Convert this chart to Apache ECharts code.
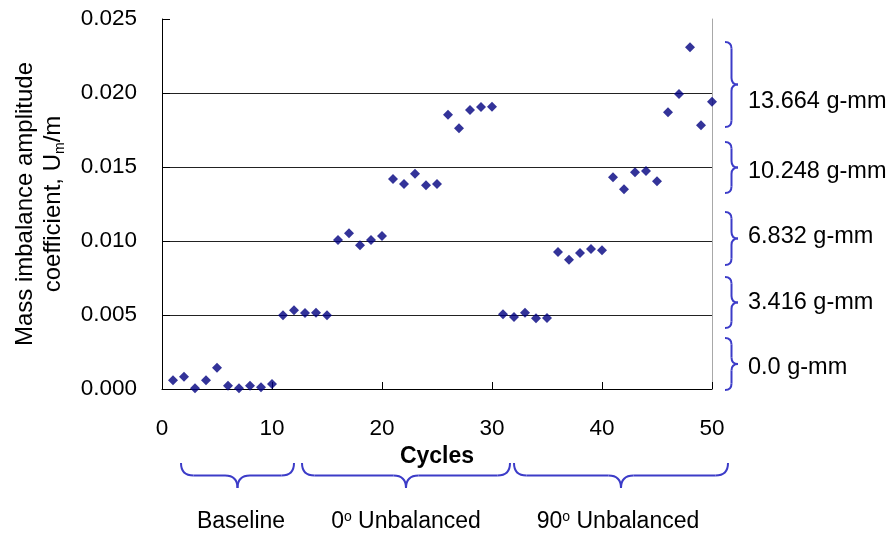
<!DOCTYPE html>
<html>
<head>
<meta charset="utf-8">
<script src="https://cdn.jsdelivr.net/npm/echarts@6/dist/echarts.min.js"></script>
<style>
  html, body { margin: 0; padding: 0; background: #fff; }
  #chart-container { width: 894px; height: 538px; }
</style>
</head>
<body>
<div id="chart-container"></div>
<script>
var dom = document.getElementById("chart-container");
var myChart = echarts.init(dom, null, { renderer: "canvas" });

// cycle numbers and measured Um/m values
const cycles = [
  1, 2, 3, 4, 5, 6, 7, 8, 9, 10,
  11, 12, 13, 14, 15, 16, 17, 18, 19, 20,
  21, 22, 23, 24, 25, 26, 27, 28, 29, 30,
  31, 32, 33, 34, 35, 36, 37, 38, 39, 40,
  41, 42, 43, 44, 45, 46, 47, 48, 49, 50
];
const umValues = [
  0.00059, 0.00083, 0.00005, 0.00059, 0.00144, 0.00022, 0.00005, 0.00022, 0.00011, 0.00034,
  0.00498, 0.00532, 0.00514, 0.00516, 0.00498, 0.01007, 0.01052, 0.00971, 0.01007, 0.01034,
  0.01419, 0.01385, 0.01455, 0.01376, 0.01385, 0.01853, 0.01761, 0.01885, 0.01905, 0.01907,
  0.00505, 0.00486, 0.00516, 0.00478, 0.0048, 0.00926, 0.00874, 0.00919, 0.00946, 0.00937,
  0.0143, 0.01349, 0.01464, 0.01473, 0.01403, 0.0187, 0.01993, 0.02309, 0.01782, 0.01941
];
const groupLabels = ["Baseline", "0{sup|o} Unbalanced", "90{sup|o} Unbalanced"];
const levelLabels = ["13.664 g-mm", "10.248 g-mm", "6.832 g-mm", "3.416 g-mm", "0.0 g-mm"];

const blue = "#3c3cc8";
const font = "Arial, 'Liberation Sans', sans-serif";
const braceStyle = { stroke: blue, fill: null, lineWidth: 2 };

// brace pieces (annotation layout, pixels)
function curve(x1, y1, cx, cy, x2, y2) {
  return { type: "bezierCurve", shape: { x1: x1, y1: y1, x2: x2, y2: y2, cpx1: cx, cpy1: cy }, style: braceStyle };
}
function seg(x1, y1, x2, y2) {
  return { type: "line", shape: { x1: x1, y1: y1, x2: x2, y2: y2 }, style: braceStyle };
}
function hBrace(x1, x2, y0, h) {
  const r = h / 2, mid = (x1 + x2) / 2, yb = y0 + r, yp = y0 + h;
  return [
    curve(x1, y0, x1, yb, x1 + r, yb),
    seg(x1 + r, yb, mid - r, yb),
    curve(mid - r, yb, mid, yb, mid, yp),
    curve(mid, yp, mid, yb, mid + r, yb),
    seg(mid + r, yb, x2 - r, yb),
    curve(x2 - r, yb, x2, yb, x2, y0)
  ];
}
function vBrace(y1, y2, x0, w) {
  const r = w / 2, mid = (y1 + y2) / 2, xb = x0 + r, xp = x0 + w;
  return [
    curve(x0, y1, xb, y1, xb, y1 + r),
    seg(xb, y1 + r, xb, mid - r),
    curve(xb, mid - r, xb, mid, xp, mid),
    curve(xp, mid, xb, mid, xb, mid + r),
    seg(xb, mid + r, xb, y2 - r),
    curve(xb, y2 - r, xb, y2, x0, y2)
  ];
}

const hSpans = [[181, 294], [302, 510], [514, 728]];
const vSpans = [[42, 127], [142, 193], [212, 265], [277, 328], [338, 390]];

var graphics = [];
hSpans.forEach((s, i) => {
  graphics = graphics.concat(hBrace(s[0], s[1], 463, 25));
  graphics.push({
    type: "text",
    x: [241, 406, 618][i],
    y: 522,
    style: {
      text: groupLabels[i],
      font: "23px " + font,
      fill: "#000",
      align: "center",
      verticalAlign: "middle",
      rich: { sup: { fontSize: 14, verticalAlign: "top", fontFamily: font } }
    }
  });
});
vSpans.forEach((s, i) => {
  graphics = graphics.concat(vBrace(s[0], s[1], 725, 13));
  graphics.push({
    type: "text",
    x: 748,
    y: [102, 172, 237, 303, 368][i],
    style: {
      text: levelLabels[i],
      font: "23.5px " + font,
      fill: "#000",
      align: "left",
      verticalAlign: "middle"
    }
  });
});

var option = {
  animation: false,
  grid: { left: 162, right: 182, top: 19, bottom: 149 },
  xAxis: {
    type: "value",
    min: 0,
    max: 50,
    interval: 10,
    name: "Cycles",
    nameLocation: "middle",
    nameGap: 48,
    nameTextStyle: { fontFamily: font, fontSize: 23, fontWeight: "bold", color: "#000" },
    axisLine: { lineStyle: { color: "#000", width: 1 } },
    axisTick: { inside: true, length: 7, lineStyle: { color: "#000" } },
    axisLabel: { margin: 28, fontFamily: font, fontSize: 22.5, color: "#000" },
    splitLine: { show: false }
  },
  yAxis: [
    {
      type: "value",
      min: 0,
      max: 0.025,
      interval: 0.005,
      name: "Mass imbalance amplitude\ncoefficient, U{sub|m}/m",
      nameLocation: "middle",
      nameRotate: 90,
      nameGap: 95,
      nameTextStyle: {
        fontFamily: font,
        fontSize: 24,
        color: "#000",
        lineHeight: 28,
        rich: { sub: { fontSize: 14, verticalAlign: "bottom", fontFamily: font, color: "#000", lineHeight: 28 } }
      },
      axisLine: { show: true, lineStyle: { color: "#000", width: 1 } },
      axisTick: { show: true, inside: true, length: 8, lineStyle: { color: "#000" } },
      axisLabel: {
        margin: 25,
        fontFamily: font,
        fontSize: 22.5,
        color: "#000",
        formatter: (v) => v.toFixed(3)
      },
      splitLine: {
        show: true,
        lineStyle: { color: ["transparent", "#222", "#222", "#222", "#222", "transparent"], width: 1 }
      }
    },
    {
      type: "value",
      position: "right",
      min: 0,
      max: 0.025,
      axisLine: { show: true, lineStyle: { color: "#a8a8a8", width: 1 } },
      axisTick: { show: false },
      axisLabel: { show: false },
      splitLine: { show: false }
    }
  ],
  series: [
    {
      type: "scatter",
      symbol: "diamond",
      symbolSize: 10,
      itemStyle: { color: "#000080" },
      data: cycles.map((c, i) => [c, umValues[i]])
    }
  ],
  graphic: graphics
};

myChart.setOption(option);
window.addEventListener("resize", myChart.resize);
</script>
</body>
</html>
